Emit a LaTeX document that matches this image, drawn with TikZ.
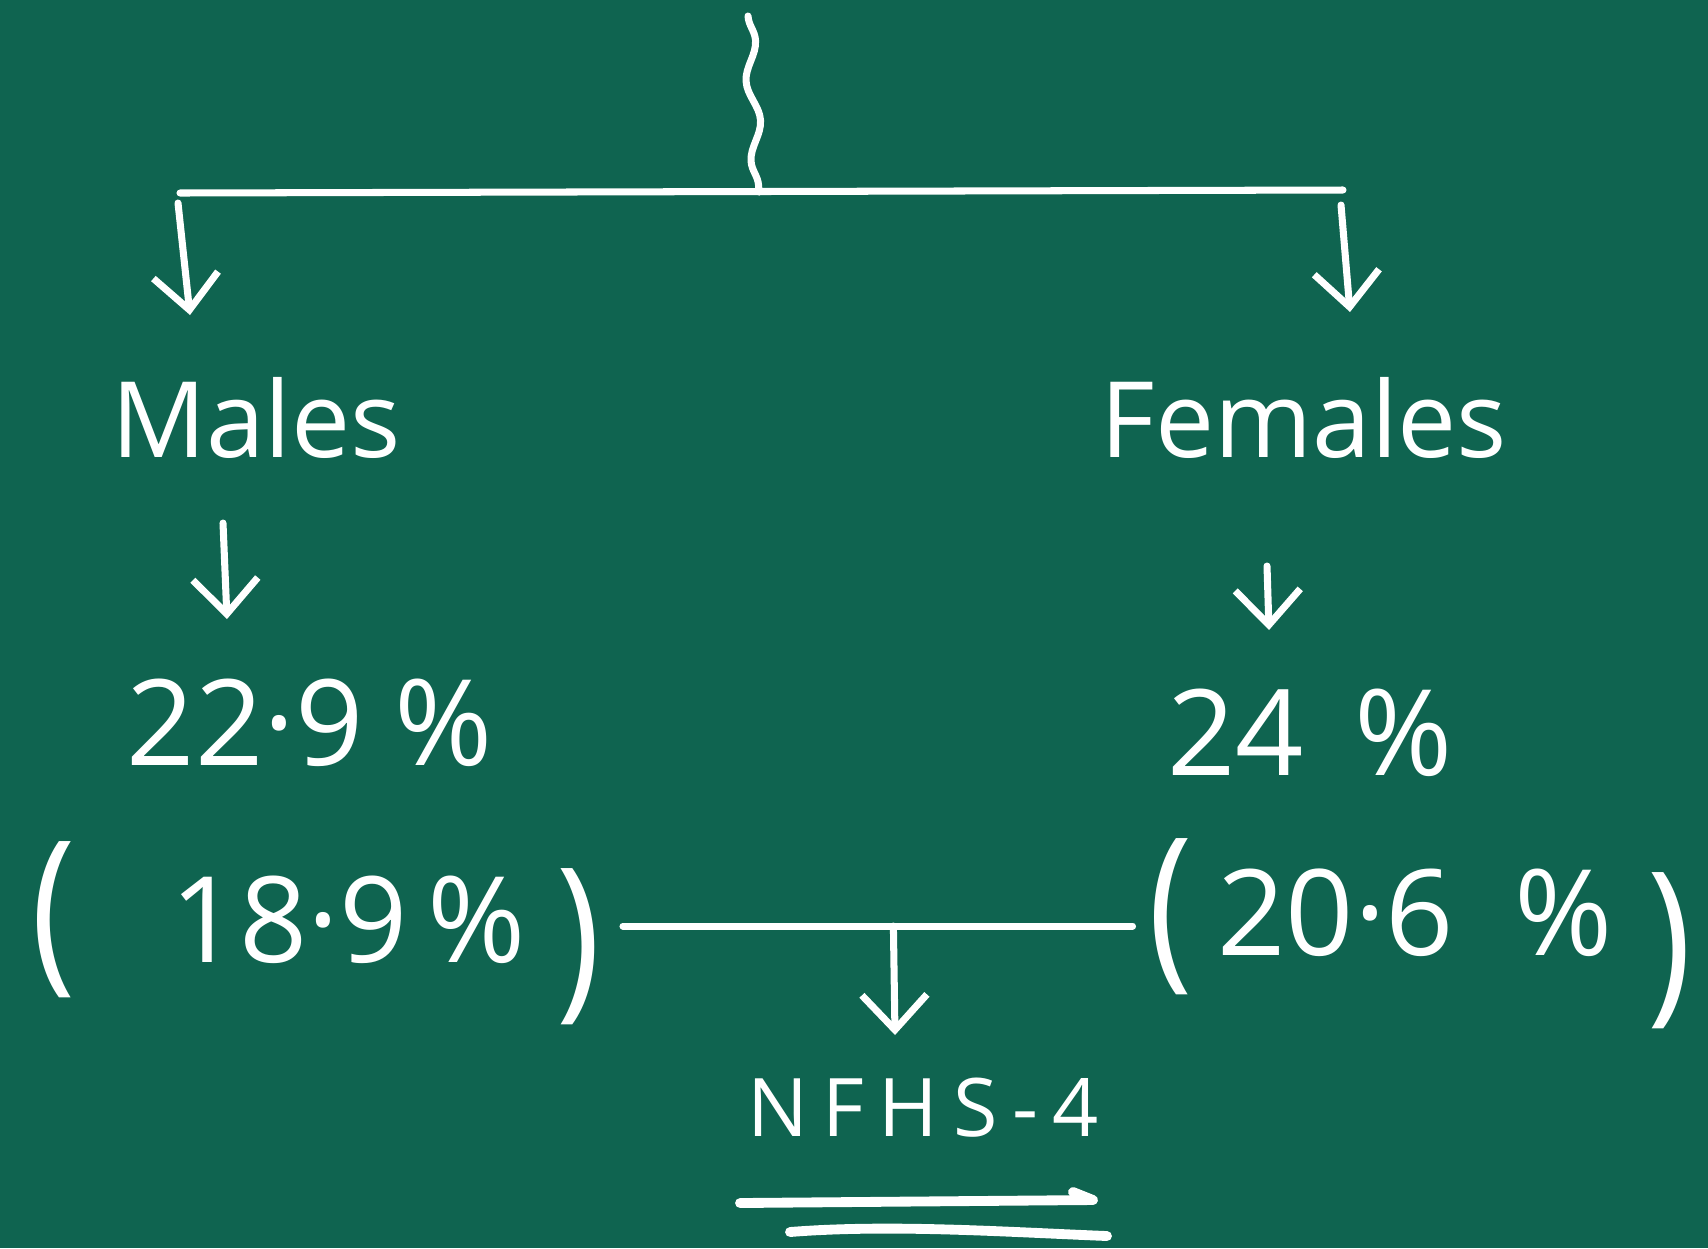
\documentclass[tikz,border=0pt]{standalone}
\usepackage{graphicx}
\usepackage{fontspec}
\setmainfont{Open Sans}
\usetikzlibrary{arrows.meta,decorations.pathmorphing}
\definecolor{board}{RGB}{15,100,80}
\newcommand\chalkopen[1]{\raisebox{#1}{\scalebox{1.25}[1.5]{(}}}
\newcommand\chalkclose[1]{\raisebox{#1}{\scalebox{1.25}[1.5]{)}}}
\tikzset{
  chalk/.style={draw=white,line width=2pt,line cap=round,line join=round},
  chalktext/.style={text=white,inner sep=0pt,anchor=base,
    font=\fontsize{30}{36}\selectfont},
  chalknum/.style={chalktext,font=\fontsize{34}{40}\selectfont},
  chalksmall/.style={chalktext,
    font=\fontsize{23}{26}\selectfont\addfontfeatures{LetterSpace=18}},
  arrow/.style={chalk,-{Straight Barb[length=3.5mm,width=6.5mm]}},
  wavy/.style={chalk,decorate,
    decoration={snake,segment length=8mm,amplitude=0.6mm}}
}

\begin{document}
\begin{tikzpicture}[x=0.1mm,y=-0.1mm]
  \fill[board] (0,0) rectangle (1708,1248);
  \useasboundingbox (0,0) rectangle (1708,1248);

  % split at the top
  \coordinate (src) at (748,16);
  \coordinate (split) at (759,192);
  \coordinate (barL) at (180,193);
  \coordinate (barR) at (1343,190);
  \draw[wavy] (src) -- (split);
  \draw[chalk] (barL) -- (barR);

  \node[chalktext] (males) at (256,457) {Males};
  \node[chalktext] (females) at (1304,457) {Females};
  \node[chalknum] (m2) at (310,765) {22·9 \%};
  \node[chalknum] (f2) at (1310,775) {24\hspace{5mm}\%};
  \node[chalknum] (m3) at (316,962)
    {\chalkopen{-0.7mm}\hspace{9.5mm}18·9\hspace{2mm}\%\hspace{3mm}\chalkclose{-3.4mm}};
  \node[chalknum] (f3) at (1420,955)
    {\chalkopen{-1.1mm}\hspace{2.5mm}20·6\hspace{6mm}\%\hspace{3.5mm}\chalkclose{-4.5mm}};
  \node[chalksmall] (nfhs) at (923,1136) {NFHS-4};

  \draw[arrow] ([shift={(-2,10)}]barL) -- ([shift={(-66,-142)}]males.base);
  \draw[arrow] ([shift={(-2,15)}]barR) -- ([shift={(46,-145)}]females.base);
  \draw[arrow] ([shift={(-33,66)}]males.base) -- ([shift={(-83,-146)}]m2.base);
  \draw[arrow] ([shift={(-37,109)}]females.base) -- ([shift={(-41,-145)}]f2.base);

  \draw[chalk,shorten <=2.2mm,shorten >=1.5mm] ([yshift=3.6mm]m3.base east)
    -- coordinate[pos=0.535] (join) ([yshift=2.9mm]f3.base west);
  \draw[arrow] (join) -- ([shift={(-28,-101)}]nfhs.base);

  % double underline
  \draw[chalk,line width=2.8pt] ([shift={(-183,67)}]nfhs.base)
    -- ++(353,-3) -- ++(-20,-8);
  \draw[chalk,line width=2.8pt] ([shift={(-133,96)}]nfhs.base)
    .. controls +(100,-8) and +(-100,-4) .. ++(317,4);
\end{tikzpicture}
\end{document}
